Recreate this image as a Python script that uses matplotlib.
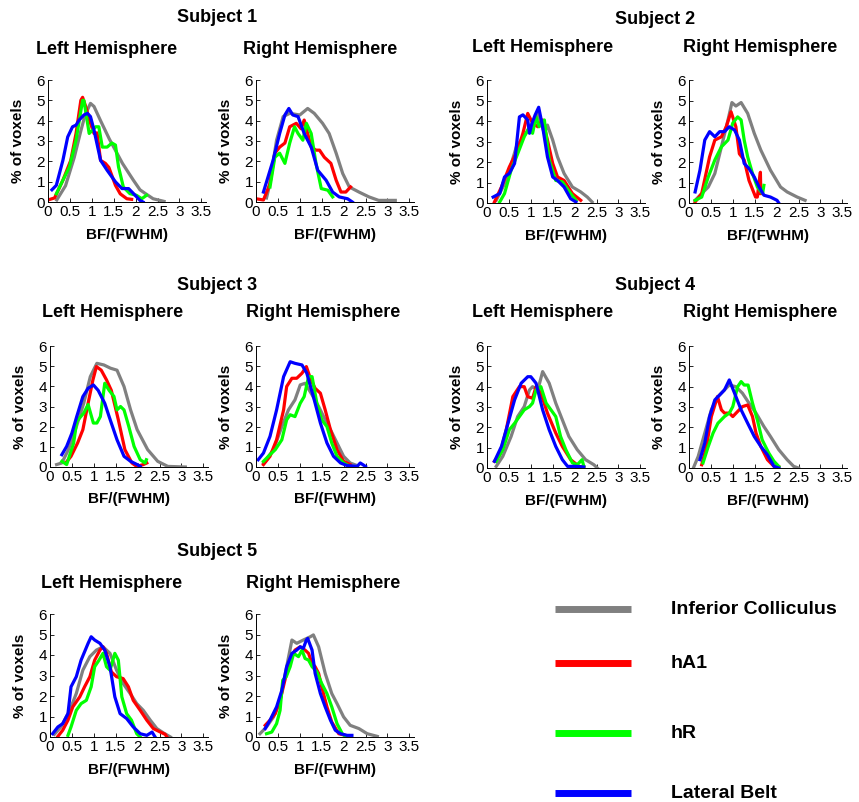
import matplotlib.pyplot as plt

plt.rcParams['font.family'] = ['Liberation Sans', 'DejaVu Sans']

W, H = 859, 802

REGIONS = ['Inferior Colliculus', 'hA1', 'hR', 'Lateral Belt']
COLORS = ['#808080', '#ff0000', '#00ff00', '#0000ff']
SUBJECTS = ['Subject 1', 'Subject 2', 'Subject 3', 'Subject 4', 'Subject 5']
HEMIS = ['Left Hemisphere', 'Right Hemisphere']
BF_TICKS = [0, 0.5, 1, 1.5, 2, 2.5, 3, 3.5]
BF_TICK_LABELS = ['0', '0.5', '1', '1.5', '2', '2.5', '3', '3.5']
PCT_TICKS = [0, 1, 2, 3, 4, 5, 6]

# (BF/FWHM, % of voxels)
s1l_ic = [(0.2, 0.1), (0.4, 0.8), (0.6, 2.2), (0.75, 3.5), (0.85, 4.3), (0.97, 4.85), (1.05, 4.7),
          (1.2, 4.0), (1.4, 3.1), (1.55, 2.5), (1.7, 1.9), (1.85, 1.4), (1.95, 1.07), (2.1, 0.6),
          (2.2, 0.45), (2.4, 0.16), (2.65, 0.03)]
s1l_a1 = [(0.0, 0.1), (0.15, 0.2), (0.34, 1.07), (0.52, 2.05), (0.64, 3.37), (0.75, 5.0), (0.79, 5.15),
          (0.86, 4.7), (0.95, 4.0), (1.05, 3.37), (1.12, 3.4), (1.2, 2.05), (1.31, 1.9), (1.39, 1.7),
          (1.54, 0.82), (1.65, 0.4), (1.8, 0.16), (1.91, 0.13)]
s1l_hr = [(0.19, 0.4), (0.34, 1.07), (0.49, 1.73), (0.64, 3.04), (0.79, 5.0), (0.82, 5.0), (0.94, 3.37),
          (1.09, 3.7), (1.16, 3.7), (1.24, 2.7), (1.35, 2.7), (1.46, 2.9), (1.54, 2.8), (1.61, 1.73),
          (1.72, 0.74), (1.87, 0.41), (2.02, 0.33), (2.14, 0.16), (2.25, 0.33)]
s1l_lb = [(0.09, 0.6), (0.19, 0.82), (0.34, 2.05), (0.45, 3.2), (0.56, 3.7), (0.64, 3.78), (0.71, 4.03),
          (0.82, 4.28), (0.9, 4.36), (0.97, 4.2), (1.05, 3.54), (1.2, 2.05), (1.35, 1.56), (1.54, 0.99),
          (1.69, 0.66), (1.84, 0.66), (1.99, 0.33), (2.1, 0.08), (2.17, 0.0)]

s1r_ic = [(0.24, 0.2), (0.3, 0.74), (0.47, 3.04), (0.62, 4.2), (0.77, 4.36), (1.0, 4.28), (1.18, 4.6),
          (1.33, 4.36), (1.52, 3.87), (1.67, 3.37), (1.83, 2.4), (1.98, 1.4), (2.13, 0.74), (2.35, 0.49),
          (2.58, 0.25), (2.8, 0.08), (3.18, 0.08)]
s1r_a1 = [(0.0, 0.16), (0.17, 0.1), (0.32, 0.9), (0.43, 2.4), (0.54, 2.7), (0.66, 2.9), (0.77, 3.7),
          (0.92, 3.87), (1.03, 3.6), (1.1, 4.03), (1.18, 3.37), (1.26, 2.7), (1.37, 2.55), (1.45, 2.55),
          (1.56, 2.2), (1.71, 1.9), (1.83, 1.07), (1.94, 0.49), (2.05, 0.49), (2.16, 0.74)]
s1r_hr = [(0.32, 0.74), (0.43, 2.2), (0.54, 2.4), (0.66, 1.9), (0.77, 2.9), (0.88, 3.7), (0.96, 3.37),
          (1.07, 3.04), (1.15, 3.87), (1.26, 3.37), (1.37, 1.9), (1.49, 0.66), (1.64, 0.58), (1.75, 0.25)]
s1r_lb = [(0.17, 0.49), (0.39, 2.05), (0.54, 3.37), (0.66, 4.28), (0.75, 4.6), (0.84, 4.28), (0.96, 4.2),
          (1.1, 3.37), (1.26, 2.7), (1.41, 1.56), (1.6, 1.07), (1.75, 0.49), (1.9, 0.25), (2.09, 0.16),
          (2.2, 0.0)]

s2l_ic = [(0.21, 0.13), (0.44, 1.1), (0.67, 2.74), (0.89, 3.4), (1.08, 4.05), (1.16, 4.37), (1.31, 3.4),
          (1.38, 3.8), (1.5, 3.07), (1.61, 2.25), (1.76, 1.44), (1.95, 0.78), (2.14, 0.54), (2.29, 0.29),
          (2.4, 0.05)]
s2l_a1 = [(0.17, 0.05), (0.33, 0.78), (0.51, 1.76), (0.7, 2.58), (0.82, 3.4), (0.93, 4.37), (1.04, 3.9),
          (1.16, 3.72), (1.27, 4.05), (1.38, 3.07), (1.5, 1.93), (1.61, 1.27), (1.76, 1.1), (1.95, 0.46),
          (2.14, 0.13)]
s2l_hr = [(0.29, 0.05), (0.4, 0.46), (0.55, 1.6), (0.7, 2.4), (0.85, 3.23), (0.97, 3.72), (1.04, 3.4),
          (1.12, 4.2), (1.19, 3.72), (1.31, 4.05), (1.42, 2.1), (1.57, 1.1), (1.72, 1.03), (1.91, 0.46),
          (2.03, 0.13)]
s2l_lb = [(0.14, 0.29), (0.29, 0.46), (0.4, 1.27), (0.51, 1.44), (0.63, 1.93), (0.74, 4.2), (0.82, 4.3),
          (0.93, 4.05), (0.97, 3.4), (1.03, 3.9), (1.1, 4.3), (1.18, 4.67), (1.27, 3.72), (1.38, 2.25),
          (1.5, 1.27), (1.61, 1.1), (1.76, 0.78), (1.91, 0.21), (2.03, 0.05)]

s2r_ic = [(0.14, 0.13), (0.29, 0.46), (0.44, 0.78), (0.59, 1.44), (0.74, 2.74), (0.89, 4.05), (0.98, 4.9),
          (1.07, 4.73), (1.19, 4.9), (1.34, 4.37), (1.49, 3.4), (1.64, 2.58), (1.86, 1.6), (2.09, 0.78),
          (2.24, 0.54), (2.47, 0.29), (2.65, 0.13)]
s2r_a1 = [(0.14, 0.05), (0.29, 0.46), (0.47, 2.25), (0.59, 3.07), (0.74, 3.23), (0.85, 3.72), (0.96, 4.45),
          (1.07, 3.72), (1.15, 2.4), (1.26, 2.1), (1.37, 1.1), (1.52, 0.29), (1.56, 0.29), (1.63, 1.5),
          (1.64, 0.46)]
s2r_hr = [(0.14, 0.13), (0.29, 0.29), (0.44, 1.27), (0.59, 2.1), (0.74, 2.74), (0.89, 3.07), (1.0, 3.9),
          (1.11, 4.2), (1.19, 4.05), (1.26, 3.07), (1.34, 2.25), (1.45, 1.44), (1.56, 0.78), (1.68, 0.46),
          (1.71, 0.86)]
s2r_lb = [(0.14, 0.54), (0.25, 1.6), (0.36, 3.07), (0.47, 3.48), (0.59, 3.23), (0.7, 3.48), (0.81, 3.48),
          (0.92, 3.72), (1.04, 3.56), (1.15, 3.07), (1.26, 1.93), (1.37, 1.68), (1.49, 1.27), (1.6, 0.78),
          (1.71, 0.38), (1.86, 0.29), (2.01, 0.13), (2.05, 0.0)]

s3l_ic = [(0.15, 0.12), (0.27, 0.2), (0.42, 0.86), (0.58, 1.85), (0.77, 3.16), (0.92, 4.48), (1.07, 5.14),
          (1.23, 5.06), (1.38, 4.9), (1.53, 4.8), (1.69, 3.99), (1.84, 2.83), (1.99, 1.85), (2.23, 0.86),
          (2.46, 0.28), (2.69, 0.03), (3.09, 0.0)]
s3l_a1 = [(0.37, 0.23), (0.48, 0.53), (0.63, 1.19), (0.75, 1.85), (0.87, 3.16), (0.98, 4.32), (1.06, 4.98),
          (1.17, 4.8), (1.29, 4.32), (1.4, 3.8), (1.56, 2.34), (1.71, 0.86), (1.87, 0.2), (1.98, 0.03),
          (2.13, 0.12), (2.21, 0.2)]
s3l_hr = [(0.27, 0.28), (0.38, 0.12), (0.54, 1.19), (0.61, 2.26), (0.77, 2.67), (0.87, 3.1), (0.99, 2.18),
          (1.07, 2.18), (1.15, 2.5), (1.25, 4.15), (1.35, 3.8), (1.46, 3.5), (1.53, 2.83), (1.61, 3.0),
          (1.69, 2.83), (1.8, 2.0), (1.92, 1.02), (2.06, 0.36), (2.17, 0.2), (2.2, 0.36)]
s3l_lb = [(0.27, 0.61), (0.38, 1.02), (0.5, 1.68), (0.61, 2.5), (0.75, 3.49), (0.87, 3.9), (0.99, 4.07),
          (1.1, 3.8), (1.25, 3.16), (1.35, 2.5), (1.53, 1.35), (1.69, 0.53), (1.84, 0.28), (1.99, 0.12),
          (2.06, 0.03)]

s3r_ic = [(0.17, 0.2), (0.4, 0.86), (0.59, 2.0), (0.74, 2.83), (0.89, 3.33), (1.01, 4.07), (1.12, 4.15),
          (1.28, 3.58), (1.43, 3.0), (1.58, 2.34), (1.7, 1.85), (1.85, 1.19), (2.0, 0.53), (2.15, 0.2),
          (2.31, 0.07)]
s3r_a1 = [(0.17, 0.12), (0.32, 0.53), (0.47, 1.35), (0.63, 2.83), (0.7, 3.99), (0.82, 4.4), (0.93, 4.4),
          (1.05, 4.65), (1.15, 4.98), (1.24, 4.4), (1.35, 3.9), (1.47, 3.66), (1.58, 2.83), (1.7, 1.85),
          (1.85, 0.86), (2.0, 0.28), (2.15, 0.12)]
s3r_hr = [(0.17, 0.28), (0.32, 0.61), (0.44, 0.86), (0.59, 1.35), (0.7, 2.34), (0.78, 2.59), (0.89, 2.5),
          (1.01, 3.16), (1.1, 3.49), (1.2, 4.48), (1.28, 4.48), (1.39, 3.16), (1.5, 2.34), (1.62, 2.0),
          (1.73, 1.19), (1.85, 0.53), (2.0, 0.2), (2.11, 0.07)]
s3r_lb = [(0.05, 0.36), (0.17, 0.69), (0.32, 1.52), (0.47, 2.83), (0.63, 4.48), (0.78, 5.22), (0.89, 5.14),
          (1.05, 5.06), (1.16, 4.65), (1.31, 3.49), (1.47, 2.18), (1.62, 1.19), (1.77, 0.53), (1.93, 0.2),
          (2.08, 0.07), (2.31, 0.03), (2.38, 0.2), (2.5, 0.03)]

s4l_ic = [(0.21, 0.08), (0.36, 0.57), (0.55, 1.55), (0.7, 2.53), (0.85, 3.02), (0.97, 3.84), (1.04, 4.0),
          (1.16, 3.84), (1.27, 4.74), (1.42, 4.17), (1.57, 3.19), (1.72, 2.37), (1.87, 1.55), (2.06, 0.9),
          (2.25, 0.41), (2.44, 0.16), (2.52, 0.0)]
s4l_a1 = [(0.17, 0.33), (0.29, 0.65), (0.44, 1.88), (0.59, 3.51), (0.74, 4.0), (0.85, 4.0), (0.93, 3.51),
          (1.04, 3.43), (1.12, 4.0), (1.23, 3.68), (1.38, 2.7), (1.57, 1.72), (1.72, 1.06), (1.91, 0.41),
          (2.1, 0.08), (2.21, 0.05)]
s4l_hr = [(0.21, 0.33), (0.36, 0.9), (0.51, 1.88), (0.63, 2.2), (0.74, 2.53), (0.85, 2.86), (0.97, 3.02),
          (1.04, 3.19), (1.12, 3.84), (1.23, 4.0), (1.35, 3.19), (1.46, 2.86), (1.57, 2.53), (1.68, 1.55),
          (1.8, 0.9), (1.95, 0.25), (2.06, 0.16), (2.17, 0.41), (2.21, 0.08)]
s4l_lb = [(0.17, 0.33), (0.33, 1.06), (0.48, 2.2), (0.63, 3.35), (0.78, 4.17), (0.93, 4.49), (1.0, 4.49),
          (1.12, 4.17), (1.27, 2.86), (1.42, 1.88), (1.57, 1.06), (1.72, 0.41), (1.84, 0.08), (2.02, 0.08),
          (2.21, 0.05)]

s4r_ic = [(0.1, 0.0), (0.21, 0.57), (0.36, 1.72), (0.51, 2.86), (0.66, 3.51), (0.81, 3.84), (0.92, 4.08),
          (1.07, 4.0), (1.22, 3.68), (1.37, 3.19), (1.53, 2.7), (1.71, 2.04), (1.86, 1.55), (2.05, 0.9),
          (2.24, 0.41), (2.39, 0.08), (2.5, 0.0)]
s4r_a1 = [(0.29, 0.16), (0.4, 1.06), (0.51, 2.53), (0.65, 3.51), (0.74, 2.86), (0.81, 2.7), (0.92, 2.7),
          (1.0, 2.53), (1.11, 2.78), (1.22, 3.02), (1.34, 3.1), (1.45, 2.53), (1.53, 1.72), (1.64, 1.06),
          (1.79, 0.41), (1.94, 0.08), (2.05, 0.05)]
s4r_hr = [(0.32, 0.25), (0.44, 1.06), (0.55, 1.72), (0.66, 2.2), (0.81, 2.53), (0.92, 2.7), (1.0, 3.02),
          (1.11, 4.0), (1.19, 4.25), (1.26, 4.08), (1.35, 4.08), (1.45, 3.19), (1.56, 2.37), (1.67, 1.39),
          (1.82, 0.74), (1.94, 0.33), (2.05, 0.08)]
s4r_lb = [(0.25, 0.41), (0.36, 1.23), (0.47, 2.53), (0.59, 3.35), (0.7, 3.59), (0.81, 3.84), (0.92, 4.33),
          (1.04, 3.68), (1.19, 2.86), (1.34, 2.2), (1.49, 1.55), (1.64, 1.06), (1.79, 0.65), (1.94, 0.08),
          (2.05, 0.0)]

s5l_ic = [(0.1, 0.13), (0.25, 0.49), (0.45, 1.3), (0.6, 2.12), (0.75, 3.26), (0.91, 3.92), (1.06, 4.24),
          (1.21, 4.4), (1.37, 4.08), (1.52, 3.26), (1.67, 2.61), (1.83, 2.12), (1.98, 1.63), (2.13, 1.3),
          (2.29, 0.82), (2.44, 0.41), (2.59, 0.2), (2.75, 0.0)]
s5l_a1 = [(0.18, 0.03), (0.29, 0.33), (0.41, 0.82), (0.52, 1.47), (0.68, 1.96), (0.79, 2.45), (0.91, 2.94),
          (1.02, 3.75), (1.14, 4.24), (1.21, 4.4), (1.29, 4.08), (1.4, 3.18), (1.52, 2.94), (1.67, 2.85),
          (1.79, 2.45), (1.9, 1.79), (2.06, 1.3), (2.21, 0.82), (2.36, 0.41), (2.52, 0.24), (2.63, 0.13),
          (2.67, 0.0)]
s5l_hr = [(0.41, 0.08), (0.48, 0.49), (0.6, 1.3), (0.71, 1.63), (0.83, 1.79), (0.94, 2.45), (1.02, 3.43),
          (1.12, 3.75), (1.21, 4.08), (1.29, 3.43), (1.37, 3.26), (1.48, 4.08), (1.56, 3.75), (1.64, 1.96),
          (1.75, 1.14), (1.86, 0.82), (1.98, 0.16), (2.06, 0.0)]
s5l_lb = [(0.06, 0.16), (0.18, 0.49), (0.29, 0.65), (0.41, 1.14), (0.48, 2.45), (0.6, 2.94), (0.71, 3.75),
          (0.87, 4.57), (0.94, 4.89), (1.02, 4.73), (1.14, 4.57), (1.25, 4.24), (1.37, 3.43), (1.48, 1.96),
          (1.6, 1.14), (1.75, 0.9), (1.9, 0.49), (2.06, 0.16), (2.21, 0.08), (2.33, 0.24), (2.4, 0.0)]

s5r_ic = [(0.09, 0.16), (0.24, 0.49), (0.4, 0.98), (0.55, 1.79), (0.7, 3.43), (0.82, 4.73), (0.93, 4.57),
          (1.08, 4.73), (1.24, 4.89), (1.31, 4.98), (1.43, 4.4), (1.58, 3.1), (1.73, 2.12), (1.85, 1.63),
          (2.0, 0.98), (2.15, 0.57), (2.35, 0.41), (2.54, 0.16), (2.77, 0.03)]
s5r_a1 = [(0.21, 0.57), (0.32, 0.82), (0.44, 1.14), (0.55, 1.79), (0.66, 2.77), (0.78, 3.75), (0.89, 4.24),
          (1.01, 4.4), (1.12, 4.24), (1.2, 4.08), (1.28, 3.59), (1.35, 3.43), (1.43, 3.1), (1.5, 2.45),
          (1.62, 1.47), (1.73, 0.73), (1.89, 0.16), (2.04, 0.08)]
s5r_hr = [(0.24, 0.16), (0.36, 0.24), (0.47, 0.65), (0.55, 1.3), (0.61, 2.77), (0.69, 2.94), (0.78, 3.43),
          (0.86, 4.08), (0.97, 3.92), (1.05, 4.24), (1.12, 3.83), (1.2, 3.75), (1.28, 3.43), (1.39, 3.18),
          (1.5, 2.61), (1.62, 2.12), (1.73, 1.47), (1.85, 0.65), (1.97, 0.16), (2.04, 0.03)]
s5r_lb = [(0.21, 0.41), (0.32, 0.82), (0.47, 1.47), (0.59, 2.28), (0.7, 3.43), (0.82, 4.08), (0.93, 4.24),
          (1.01, 4.4), (1.08, 4.32), (1.15, 4.73), (1.18, 4.81), (1.28, 4.24), (1.35, 3.1), (1.47, 2.12),
          (1.58, 1.47), (1.7, 0.82), (1.81, 0.33), (1.93, 0.16), (2.08, 0.08), (2.19, 0.08)]

CURVES = [
    [[s1l_ic, s1l_a1, s1l_hr, s1l_lb], [s1r_ic, s1r_a1, s1r_hr, s1r_lb]],
    [[s2l_ic, s2l_a1, s2l_hr, s2l_lb], [s2r_ic, s2r_a1, s2r_hr, s2r_lb]],
    [[s3l_ic, s3l_a1, s3l_hr, s3l_lb], [s3r_ic, s3r_a1, s3r_hr, s3r_lb]],
    [[s4l_ic, s4l_a1, s4l_hr, s4l_lb], [s4r_ic, s4r_a1, s4r_hr, s4r_lb]],
    [[s5l_ic, s5l_a1, s5l_hr, s5l_lb], [s5r_ic, s5r_a1, s5r_hr, s5r_lb]],
]

# layout in pixels: x of BF=0 for (left, right) panel, top/bottom of axes
PANEL_X = [(48, 256), (487, 689), (50, 256), (487, 689), (50, 256)]
PANEL_Y = [(80, 202), (80, 203), (346, 467), (346, 468), (614, 737)]
TITLE_POS = [(217, 18), (655, 20), (217, 285), (655, 286), (217, 552)]
HEMI_POS = [((107, 49), (320, 49)), ((543, 48), (760, 48)), ((113, 313), (323, 313)),
            ((543, 313), (760, 313)), ((112, 583), (323, 583))]
XMAX = 3.6
PX_PER_UNIT = 43.8


def make_panel(fig, x0, ytop, ybot, curves):
    w = XMAX * PX_PER_UNIT
    ax = fig.add_axes([x0 / W, 1 - ybot / H, w / W, (ybot - ytop) / H])
    for pts, color in zip(curves, COLORS):
        xs = [p[0] for p in pts]
        ys = [p[1] for p in pts]
        ax.plot(xs, ys, color=color, lw=2.3, solid_joinstyle='round')
    ax.set_xlim(0, XMAX)
    ax.set_ylim(0, 6)
    ax.set_xticks(BF_TICKS)
    ax.set_xticklabels(BF_TICK_LABELS)
    ax.set_yticks(PCT_TICKS)
    ax.spines['top'].set_visible(False)
    ax.spines['right'].set_visible(False)
    for s in ('left', 'bottom'):
        ax.spines[s].set_linewidth(0.7)
    ax.tick_params(direction='in', length=3, width=0.6, labelsize=11, pad=2, colors='black')
    ax.set_xlabel('BF/(FWHM)', fontsize=11, fontweight='bold')
    ax.set_ylabel('% of voxels', fontsize=11, fontweight='bold')
    ax.xaxis.set_label_coords(0.5, -0.21)
    ax.yaxis.set_label_coords(-0.145, 0.5)
    return ax


def main():
    fig = plt.figure(figsize=(W / 100, H / 100), dpi=100)

    for i, subj in enumerate(SUBJECTS):
        ytop, ybot = PANEL_Y[i]
        for j in range(2):
            make_panel(fig, PANEL_X[i][j], ytop, ybot, CURVES[i][j])
            hx, hy = HEMI_POS[i][j]
            fig.text(hx / W, 1 - hy / H, HEMIS[j], ha='center', va='center',
                     fontsize=13, fontweight='bold')
        tx, ty = TITLE_POS[i]
        fig.text(tx / W, 1 - ty / H, subj, ha='center', va='center',
                 fontsize=13, fontweight='bold')

    # legend
    leg = fig.add_axes([0, 0, 1, 1])
    leg.set_xlim(0, W)
    leg.set_ylim(H, 0)
    leg.axis('off')
    leg_y = [609, 663, 733, 793]
    for name, color, y in zip(REGIONS, COLORS, leg_y):
        leg.plot([555, 631], [y, y], color=color, lw=5, solid_capstyle='butt')
        leg.text(671, y, name, ha='left', va='center', fontsize=14, fontweight='bold')

    fig.savefig('out.png', dpi=100)


if __name__ == "__main__":
    main()
